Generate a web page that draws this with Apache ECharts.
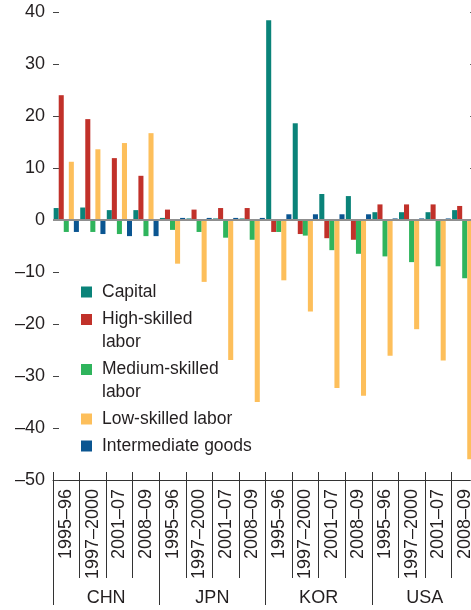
<!DOCTYPE html>
<html lang="en">
<head>
    <meta charset="UTF-8">
    <title>chart</title>
    <script src="https://cdn.jsdelivr.net/npm/echarts@6/dist/echarts.min.js"></script>
    <style>
        html, body {
            margin: 0;
            height: 100%;
            background: #fff;
        }
        #app {
            width: 471px;
            height: 610px;
        }
    </style>
</head>
<body>
<div id="app"></div>
<script>
    var periods = ['1995–96', '1997–2000', '2001–07', '2008–09'];
    var countries = ['CHN', 'JPN', 'KOR', 'USA'];
    var yTicks = [-50, -40, -30, -20, -10, 0, 10, 20, 30, 40];

    var seriesNames = ['Capital', 'High-skilled\nlabor', 'Medium-skilled\nlabor', 'Low-skilled labor', 'Intermediate goods'];
    var seriesColors = ['#0a8379', '#c1312a', '#2fb45c', '#fdbf5b', '#0a5591'];

    // CHN x4, JPN x4, KOR x4, USA x4
    var capital = [2.3, 2.4, 1.9, 1.9, 0.4, 0.3, 0.3, 0.3, 38.4, 18.6, 5.0, 4.6, 1.5, 1.5, 1.5, 1.9];
    var highSkilled = [24.0, 19.4, 11.9, 8.5, 2.0, 2.0, 2.3, 2.3, -2.3, -2.7, -3.5, -3.8, 3.0, 3.0, 3.0, 2.7];
    var mediumSkilled = [-2.3, -2.3, -2.7, -3.1, -1.9, -2.3, -3.4, -3.8, -2.3, -3.0, -5.8, -6.5, -7.0, -8.1, -8.9, -11.2];
    var lowSkilled = [11.2, 13.6, 14.8, 16.7, -8.4, -11.9, -26.9, -35.0, -11.6, -17.6, -32.3, -33.8, -26.1, -21.0, -27.0, -46.0];
    var intermediate = [-2.3, -2.7, -3.1, -3.1, 0.4, 0.4, 0.4, 0.4, 1.1, 1.1, 1.1, 1.1, 0.3, 0.3, 0.3, 0.3];

    var values = [capital, highSkilled, mediumSkilled, lowSkilled, intermediate];

    var font = "'Liberation Sans', Arial, sans-serif";
    var textColor = '#231f20';

    var categories = [];
    for (var c = 0; c < countries.length; c++) {
        for (var p = 0; p < periods.length; p++) {
            categories.push(periods[p]);
        }
    }

    // legend: one component per entry so two-line labels keep the square on the first line
    var legendTops = [280.5, 308, 358, 407.5, 434.5];
    var legends = [];
    for (var i = 0; i < seriesNames.length; i++) {
        var twoLines = seriesNames[i].indexOf('\n') >= 0;
        legends.push({
            left: 81,
            top: legendTops[i],
            padding: 0,
            orient: 'vertical',
            selectedMode: false,
            itemWidth: 16,
            itemHeight: twoLines ? 46 : 11,
            icon: twoLines
                ? 'path://M0,6h11v11h-11zM0,0L0,0M16,46L16,46'
                : 'path://M0,0h11v11h-11zM16,11L16,11',
            data: [seriesNames[i]],
            textStyle: {
                fontFamily: font,
                fontSize: 17.5,
                lineHeight: 23,
                color: textColor
            }
        });
    }

    var series = [];
    for (var i = 0; i < seriesNames.length; i++) {
        var s = {
            name: seriesNames[i],
            type: 'bar',
            xAxisIndex: 0,
            yAxisIndex: 0,
            barGap: 0,
            barCategoryGap: '5%',
            itemStyle: {color: seriesColors[i]},
            data: values[i]
        };
        if (i === 0) {
            s.markLine = {
                silent: true,
                symbol: 'none',
                label: {show: false},
                lineStyle: {color: '#8f8f8f', width: 2, type: 'solid'},
                data: [{yAxis: 0}]
            };
        }
        series.push(s);
    }

    function yLabel(v) {
        return v < 0 ? '–' + (-v) : String(v);
    }

    var option = {
        animation: false,
        grid: {left: 53, right: -7, top: 12, bottom: 130, containLabel: false, outerBoundsMode: 'none'},
        legend: legends,
        xAxis: [
            {
                type: 'category',
                data: categories,
                position: 'bottom',
                axisLine: {show: true, onZero: false, lineStyle: {color: '#333', width: 1}},
                axisTick: {show: true, interval: 0, length: 98, lineStyle: {color: '#333'}},
                axisLabel: {
                    interval: 0,
                    rotate: 90,
                    margin: 9,
                    fontFamily: font,
                    fontSize: 18,
                    color: textColor
                }
            },
            {
                type: 'category',
                data: countries,
                position: 'bottom',
                axisLine: {show: false, onZero: false},
                axisTick: {show: true, interval: 0, length: 125, lineStyle: {color: '#333'}},
                axisLabel: {
                    interval: 0,
                    margin: 109,
                    fontFamily: font,
                    fontSize: 18,
                    color: textColor
                }
            },
            {
                type: 'category',
                data: categories,
                position: 'bottom',
                axisLine: {show: false, onZero: false},
                axisTick: {show: true, inside: true, interval: 0, length: 8, lineStyle: {color: '#333'}},
                axisLabel: {show: false}
            }
        ],
        yAxis: [
            {
                type: 'value',
                min: yTicks[0],
                max: yTicks[yTicks.length - 1],
                interval: 10,
                axisLine: {show: false},
                splitLine: {show: false},
                axisTick: {show: true, inside: true, length: 6, lineStyle: {color: '#444'}},
                axisLabel: {
                    margin: 8,
                    fontFamily: font,
                    fontSize: 18,
                    color: textColor,
                    formatter: yLabel
                }
            },
            {
                type: 'value',
                position: 'right',
                min: yTicks[0],
                max: yTicks[yTicks.length - 1],
                interval: 10,
                axisLine: {show: false},
                splitLine: {show: false},
                axisTick: {show: true, inside: true, length: 8, lineStyle: {color: '#666'}},
                axisLabel: {show: false}
            }
        ],
        series: series
    };

    var myChart = echarts.init(document.getElementById('app'));
    myChart.setOption(option);
</script>
</body>
</html>
